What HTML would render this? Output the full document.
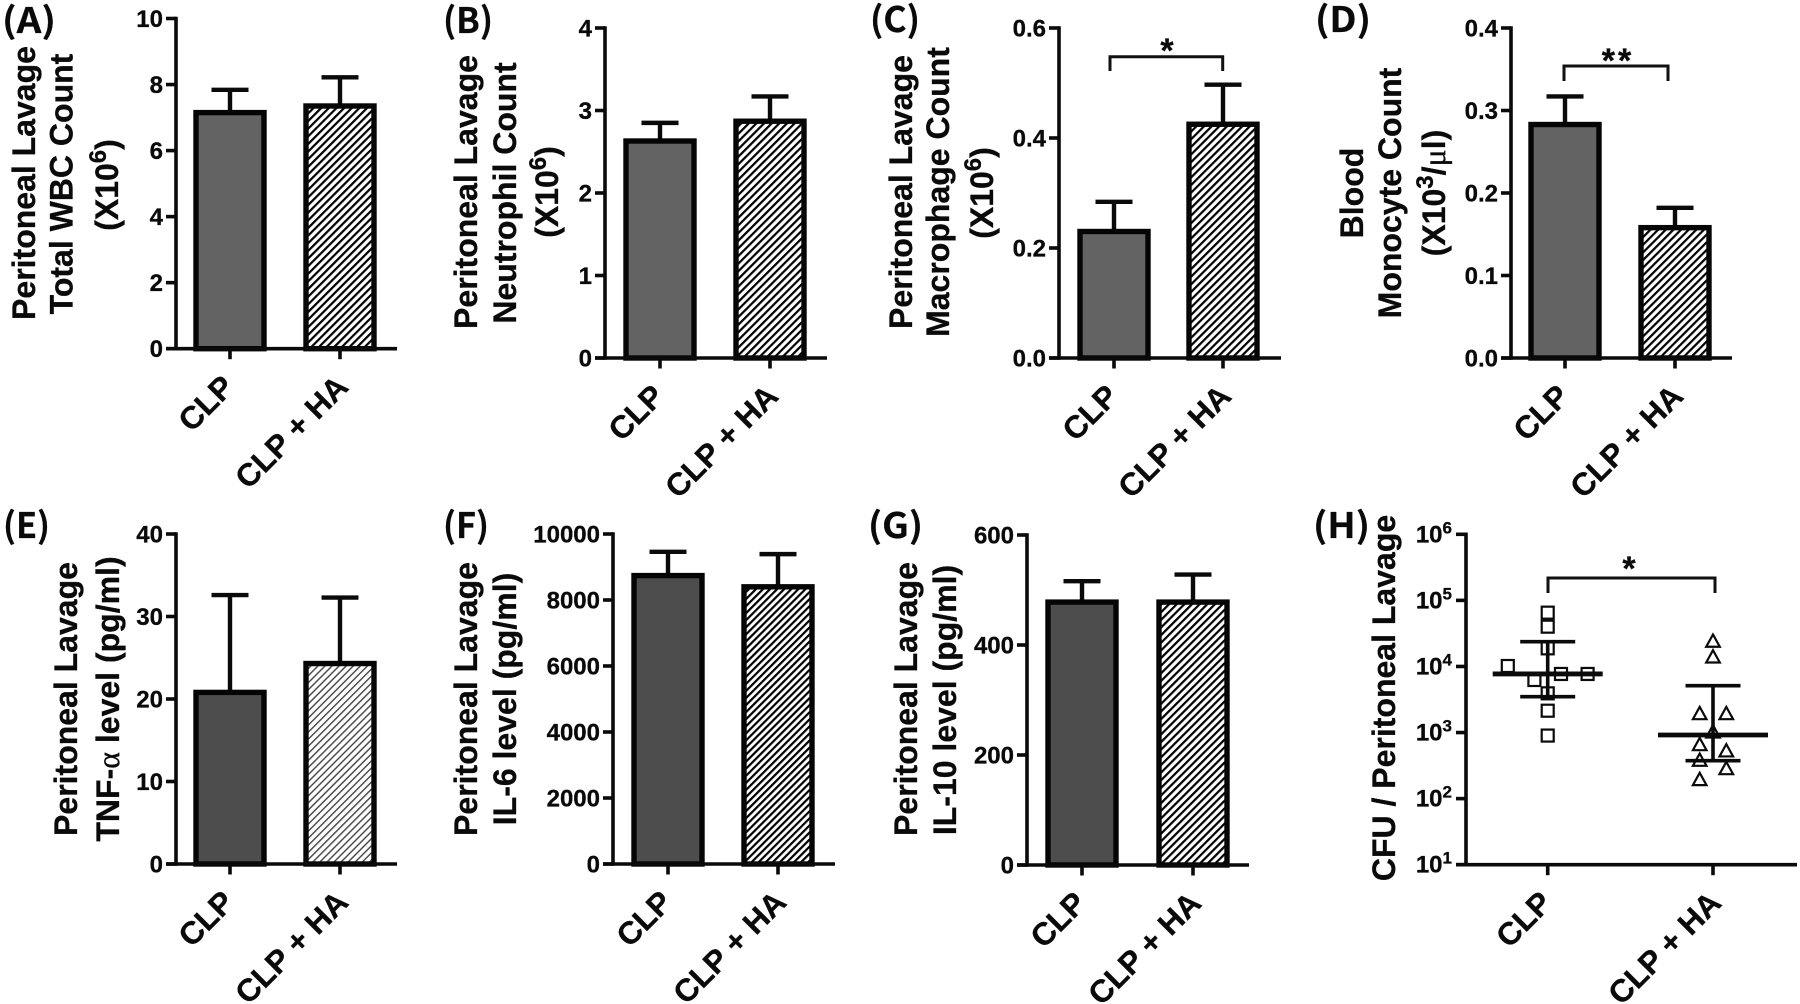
<!DOCTYPE html>
<html lang="en">
<head>
<meta charset="utf-8">
<title>CLP vs CLP + HA panels</title>
<style>
html,body{margin:0;padding:0;background:#fff;}
svg{display:block;}
text{fill:#0a0a0a;stroke:#0a0a0a;stroke-width:0.3px;font-family:"Liberation Sans",Arial,sans-serif;font-weight:700;}
.letter{font-family:"Noto Sans CJK KR","Liberation Sans",sans-serif;font-size:35px;font-weight:700;stroke-width:0.2px;}
.ytitle{font-size:32px;text-anchor:middle;}
.sup{font-size:24px;}
.serif{font-family:"Liberation Serif",serif;font-weight:400;}
.star{font-size:34px;text-anchor:middle;}
</style>
</head>
<body>
<svg id="figure" xmlns="http://www.w3.org/2000/svg" width="1800" height="1004" viewBox="0 0 1800 1004">
  <defs>
    <pattern id="hatch-dark" width="5.4" height="5.4" patternUnits="userSpaceOnUse" patternTransform="rotate(45)">
      <rect width="5.4" height="5.4" fill="#fff"></rect><rect width="2.2" height="5.4" fill="#000"></rect>
    </pattern>
    <pattern id="hatch-dense" width="5" height="5" patternUnits="userSpaceOnUse" patternTransform="rotate(45)">
      <rect width="5" height="5" fill="#fff"></rect><rect width="2.2" height="5" fill="#000"></rect>
    </pattern>
    <pattern id="hatch-light" width="5" height="5" patternUnits="userSpaceOnUse" patternTransform="rotate(45)">
      <rect width="5" height="5" fill="#fff"></rect><rect width="1.4" height="5" fill="#444"></rect>
    </pattern>
  </defs>

  <text class="letter" x="2" y="33" textLength="54" lengthAdjust="spacingAndGlyphs">(A)</text>
  <text class="letter" x="443" y="33" textLength="50" lengthAdjust="spacingAndGlyphs">(B)</text>
  <text class="letter" x="870" y="32" textLength="50" lengthAdjust="spacingAndGlyphs">(C)</text>
  <text class="letter" x="1315" y="32" textLength="56" lengthAdjust="spacingAndGlyphs">(D)</text>
  <text class="letter" x="3" y="538" textLength="47" lengthAdjust="spacingAndGlyphs">(E)</text>
  <text class="letter" x="443" y="538" textLength="46" lengthAdjust="spacingAndGlyphs">(F)</text>
  <text class="letter" x="868" y="538" textLength="55" lengthAdjust="spacingAndGlyphs">(G)</text>
  <text class="letter" x="1313" y="538" textLength="57" lengthAdjust="spacingAndGlyphs">(H)</text>

  <g>
    <text class="ytitle" transform="translate(35,183) rotate(-90)">Peritoneal Lavage</text>
    <text class="ytitle" transform="translate(72.7,184) rotate(-90)">Total WBC Count</text>
    <text class="ytitle" transform="translate(118,185) rotate(-90)">(X10<tspan class="sup" dy="-12">6</tspan><tspan dy="12">)</tspan></text>
  </g>
  <g>
    <text class="ytitle" transform="translate(477,192) rotate(-90)">Peritoneal Lavage</text>
    <text class="ytitle" transform="translate(516,193) rotate(-90)">Neutrophil Count</text>
    <text class="ytitle" transform="translate(558,192) rotate(-90)">(X10<tspan class="sup" dy="-12">6</tspan><tspan dy="12">)</tspan></text>
  </g>
  <g>
    <text class="ytitle" transform="translate(912,192) rotate(-90)">Peritoneal Lavage</text>
    <text class="ytitle" transform="translate(949,192) rotate(-90)">Macrophage Count</text>
    <text class="ytitle" transform="translate(993,193) rotate(-90)">(X10<tspan class="sup" dy="-12">6</tspan><tspan dy="12">)</tspan></text>
  </g>
  <g>
    <text class="ytitle" transform="translate(1363,193) rotate(-90)">Blood</text>
    <text class="ytitle" transform="translate(1401,193) rotate(-90)">Monocyte Count</text>
    <text class="ytitle" transform="translate(1445,193) rotate(-90)">(X10<tspan class="sup" dy="-12">3</tspan><tspan dy="12">/</tspan><tspan class="serif">μ</tspan>l)</text>
  </g>
  <g>
    <text class="ytitle" transform="translate(77,699) rotate(-90)">Peritoneal Lavage</text>
    <text class="ytitle" transform="translate(119,699) rotate(-90)">TNF-<tspan class="serif">α</tspan> level (pg/ml)</text>
  </g>
  <g>
    <text class="ytitle" transform="translate(477,699) rotate(-90)">Peritoneal Lavage</text>
    <text class="ytitle" transform="translate(516,699) rotate(-90)">IL-6 level (pg/ml)</text>
  </g>
  <g>
    <text class="ytitle" transform="translate(917,699) rotate(-90)">Peritoneal Lavage</text>
    <text class="ytitle" transform="translate(956,700) rotate(-90)">IL-10 level (pg/ml)</text>
  </g>
  <text class="ytitle" transform="translate(1395,698) rotate(-90)">CFU / Peritoneal Lavage</text>

  <path d="M1110 71V56.7H1222.7V71" fill="none" stroke="#111" stroke-width="3"></path>
  <text class="star" x="1167" y="62">*</text>
  <path d="M1564 81V66H1668V81" fill="none" stroke="#111" stroke-width="3"></path>
  <text class="star" x="1618" y="72" letter-spacing="3">**</text>
  <path d="M1548 593V578H1715V593" fill="none" stroke="#111" stroke-width="3"></path>
  <text class="star" x="1629" y="580">*</text>
</svg>

<script>
const categories = ['CLP', 'CLP + HA'];

const tickLabelsA = ['0', '2', '4', '6', '8', '10'];
const meansA = [7.15, 7.35];
const errorTopsA = [7.84, 8.22];

const tickLabelsB = ['0', '1', '2', '3', '4'];
const meansB = [2.63, 2.87];
const errorTopsB = [2.85, 3.17];

const tickLabelsC = ['0.0', '0.2', '0.4', '0.6'];
const meansC = [0.23, 0.425];
const errorTopsC = [0.284, 0.497];

const tickLabelsD = ['0.0', '0.1', '0.2', '0.3', '0.4'];
const meansD = [0.283, 0.158];
const errorTopsD = [0.317, 0.182];

const tickLabelsE = ['0', '10', '20', '30', '40'];
const meansE = [20.8, 24.3];
const errorTopsE = [32.6, 32.3];

const tickLabelsF = ['0', '2000', '4000', '6000', '8000', '10000'];
const meansF = [8740, 8400];
const errorTopsF = [9460, 9390];

const tickLabelsG = ['0', '200', '400', '600'];
const meansG = [478, 478];
const errorTopsG = [516, 528];

const logTickExponents = [1, 2, 3, 4, 5, 6];
const clpCfu = [65200, 40000, 18800, 10160, 6240, 7700, 7700, 3920, 2140, 900];
const clpSwarmSlots = [0, 0, 0, -3, -1, 1, 3, 0, 0, 0];
const haCfu = [24300, 14060, 1950, 1950, 1030, 662, 532, 384, 287, 196];
const haSwarmSlots = [0, 0, -1, 1, 0, -1, 1, -1, 1, -1];
const cfuCentres = [7700, 918];
const cfuUpper = [23700, 5120];
const cfuLower = [3490, 375];

const NS = 'http://www.w3.org/2000/svg';
const figure = document.getElementById('figure');

function make(tag, parent, attrs) {
  const el = document.createElementNS(NS, tag);
  for (const key in attrs) el.setAttribute(key, attrs[key]);
  parent.appendChild(el);
  return el;
}

function drawAxes(group, axisX, top, bottom, right, cx, ticks) {
  const yLine = make('line', group, {x1: axisX, x2: axisX, y1: top - 1.8, y2: bottom + 1.8, stroke: '#0a0a0a', 'stroke-width': 3.6});
  
  
  const xLine = make('line', group, {x1: axisX - 10, x2: right, y1: bottom, y2: bottom, stroke: '#0a0a0a', 'stroke-width': 3.6});
  
  
  ticks.forEach(function (t) {
    const tick = make('line', group, {x1: axisX - 10, x2: axisX, y1: t.y, y2: t.y, stroke: '#0a0a0a', 'stroke-width': 3.6});
    
    
  });
  categories.forEach(function (name, i) {
    const tick = make('line', group, {x1: cx[i], x2: cx[i], y1: bottom, y2: bottom + 10.5, stroke: '#0a0a0a', 'stroke-width': 3.6});
    
    
    const ax = cx[i] + (i === 0 ? 6 : 10);
    const ay = bottom + (i === 0 ? 40 : 40);
    const label = make('text', group, {'text-anchor': 'end', 'font-size': 31.5, transform: 'translate(' + ax + ',' + ay + ') rotate(-45)'});
    label.textContent = name;
    
    
  });
}

function drawBarPanel(p) {
  const group = make('g', figure, {});
  
  
  const maxValue = parseFloat(p.tickLabels[p.tickLabels.length - 1]);
  const y = function (v) { return p.bottom - (v / maxValue) * (p.bottom - p.top); };
  const ticks = p.tickLabels.map(function (s) { return {y: y(parseFloat(s))}; });

  categories.forEach(function (name, i) {
    const stem = make('line', group, {x1: p.cx[i], x2: p.cx[i], y1: y(p.errorTops[i]), y2: y(p.means[i]), stroke: '#0a0a0a', 'stroke-width': 4.4});
    
    
    const cap = make('line', group, {x1: p.cx[i] - 18.5, x2: p.cx[i] + 18.5, y1: y(p.errorTops[i]), y2: y(p.errorTops[i]), stroke: '#0a0a0a', 'stroke-width': 4.4});
    
    
    const bar = make('rect', group, {x: p.cx[i] - 34, width: 68, y: y(p.means[i]), height: p.bottom - y(p.means[i]), fill: i === 0 ? p.fill : 'url(#' + p.hatch + ')', stroke: '#050505', 'stroke-width': 5.4});
    
    
  });

  drawAxes(group, p.axisX, p.top, p.bottom, p.right, p.cx, ticks);

  p.tickLabels.forEach(function (s) {
    const label = make('text', group, {x: p.axisX - 13, y: y(parseFloat(s)) + 8.5, 'text-anchor': 'end', 'font-size': 24});
    label.textContent = s;
    
    
  });
}

drawBarPanel({id: 'a', axisX: 176, top: 18.5, bottom: 348.7, right: 397, cx: [230, 340], tickLabels: tickLabelsA, means: meansA, errorTops: errorTopsA, fill: '#636363', hatch: 'hatch-dark'});
drawBarPanel({id: 'b', axisX: 605, top: 28, bottom: 358, right: 827, cx: [660, 770], tickLabels: tickLabelsB, means: meansB, errorTops: errorTopsB, fill: '#636363', hatch: 'hatch-dark'});
drawBarPanel({id: 'c', axisX: 1059, top: 28, bottom: 358, right: 1281, cx: [1114, 1223], tickLabels: tickLabelsC, means: meansC, errorTops: errorTopsC, fill: '#636363', hatch: 'hatch-dark'});
drawBarPanel({id: 'd', axisX: 1511, top: 28, bottom: 358, right: 1732, cx: [1565, 1675], tickLabels: tickLabelsD, means: meansD, errorTops: errorTopsD, fill: '#636363', hatch: 'hatch-dark'});
drawBarPanel({id: 'e', axisX: 176, top: 534, bottom: 864, right: 397, cx: [230, 340], tickLabels: tickLabelsE, means: meansE, errorTops: errorTopsE, fill: '#4d4d4d', hatch: 'hatch-light'});
drawBarPanel({id: 'f', axisX: 613, top: 534, bottom: 864, right: 835, cx: [668, 778], tickLabels: tickLabelsF, means: meansF, errorTops: errorTopsF, fill: '#4d4d4d', hatch: 'hatch-dense'});
drawBarPanel({id: 'g', axisX: 1027, top: 535, bottom: 865, right: 1249, cx: [1082, 1193], tickLabels: tickLabelsG, means: meansG, errorTops: errorTopsG, fill: '#4d4d4d', hatch: 'hatch-dark'});

(function drawScatterPanel() {
  const axisX = 1466;
  const top = 534.3;
  const bottom = 864.7;
  const right = 1797;
  const cx = [1547.7, 1713];
  const slotWidth = 13.3;
  const minExp = logTickExponents[0];
  const maxExp = logTickExponents[logTickExponents.length - 1];
  const yExp = function (e) { return bottom - ((e - minExp) / (maxExp - minExp)) * (bottom - top); };
  const y = function (v) { return yExp(Math.log10(v)); };

  const group = make('g', figure, {});
  
  

  clpCfu.forEach(function (v, i) {
    const px = cx[0] + clpSwarmSlots[i] * slotWidth;
    const py = y(v);
    const marker = make('rect', group, {x: px - 6, y: py - 6, width: 12, height: 12, fill: 'none', stroke: '#0a0a0a', 'stroke-width': 2.2});
    
    
  });

  haCfu.forEach(function (v, i) {
    const px = cx[1] + haSwarmSlots[i] * slotWidth;
    const py = y(v);
    const pts = [[px, py - 6.5], [px + 6.8, py + 5.8], [px - 6.8, py + 5.8]].map(function (c) { return c.join(','); }).join(' ');
    const marker = make('polygon', group, {points: pts, fill: 'none', stroke: '#0a0a0a', 'stroke-width': 2.2});
    
    
  });

  categories.forEach(function (name, i) {
    const centre = make('line', group, {x1: cx[i] - 55, x2: cx[i] + 55, y1: y(cfuCentres[i]), y2: y(cfuCentres[i]), stroke: '#0a0a0a', 'stroke-width': 4.8});
    
    
    const stem = make('line', group, {x1: cx[i], x2: cx[i], y1: y(cfuUpper[i]), y2: y(cfuLower[i]), stroke: '#0a0a0a', 'stroke-width': 3.6});
    
    
    const capTop = make('line', group, {x1: cx[i] - 27.5, x2: cx[i] + 27.5, y1: y(cfuUpper[i]), y2: y(cfuUpper[i]), stroke: '#0a0a0a', 'stroke-width': 3.6});
    
    
    const capLow = make('line', group, {x1: cx[i] - 27.5, x2: cx[i] + 27.5, y1: y(cfuLower[i]), y2: y(cfuLower[i]), stroke: '#0a0a0a', 'stroke-width': 3.6});
    
    
  });

  drawAxes(group, axisX, top, bottom, right, cx, logTickExponents.map(function (e) { return {y: yExp(e)}; }));

  logTickExponents.forEach(function (e) {
    const label = make('text', group, {x: axisX - 14, y: yExp(e) + 8, 'text-anchor': 'end', 'font-size': 24});
    
    
    label.appendChild(document.createTextNode('10'));
    const sup = make('tspan', label, {dy: -9, 'font-size': 17});
    sup.textContent = String(e);
  });
})();
</script>
</body>
</html>
